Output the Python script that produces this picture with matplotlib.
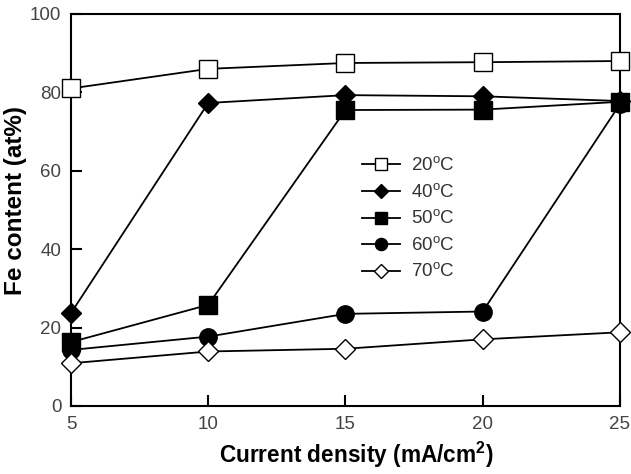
import matplotlib.pyplot as plt

# current density (mA/cm2)
current = [5, 10, 15, 20, 25]

# Fe content (at%) for each bath temperature
fe_20 = [81.0, 86.0, 87.5, 87.7, 88.0]
fe_40 = [23.7, 77.3, 79.3, 79.0, 77.8]
fe_50 = [16.3, 25.8, 75.5, 75.6, 77.6]
fe_60 = [14.3, 17.7, 23.5, 24.1, 77.0]
fe_70 = [10.9, 13.9, 14.6, 17.0, 18.8]

labels = ["20$^{\\mathrm{o}}$C", "40$^{\\mathrm{o}}$C", "50$^{\\mathrm{o}}$C",
          "60$^{\\mathrm{o}}$C", "70$^{\\mathrm{o}}$C"]

plt.rcParams['font.family'] = ['Liberation Sans', 'DejaVu Sans']
plt.rcParams['mathtext.fontset'] = 'custom'
plt.rcParams['mathtext.rm'] = 'Liberation Sans'
plt.rcParams['mathtext.bf'] = 'Liberation Sans:bold'

fig = plt.figure(figsize=(6.31, 4.74), dpi=100)
ax = fig.add_axes([0.1125, 0.1435, 0.870, 0.827])

lw = 1.3
ax.plot(current, fe_20, 's-', color='black', mfc='white', mec='black', ms=12.5, mew=1.0,
        lw=lw, label=labels[0], clip_on=False, zorder=3)
ax.plot(current, fe_40, 'D-', color='black', ms=10, lw=lw, label=labels[1],
        clip_on=False, zorder=3)
ax.plot(current, fe_50, 's-', color='black', ms=13, lw=lw, label=labels[2],
        clip_on=False, zorder=3)
ax.plot(current, fe_60, 'o-', color='black', ms=12.5, lw=lw, label=labels[3],
        clip_on=False, zorder=3)
ax.plot(current, fe_70, 'D-', color='black', mfc='white', mec='black', ms=10, mew=1.0,
        lw=lw, label=labels[4], clip_on=False, zorder=3)

ax.set_xlim(5, 25)
ax.set_ylim(0, 100)
ax.set_xticks([5, 10, 15, 20, 25])
ax.set_yticks([0, 20, 40, 60, 80, 100])
ax.tick_params(direction='in', length=8, width=1.5, labelsize=13.5, pad=7,
               labelcolor='#444444')
for s in ax.spines.values():
    s.set_linewidth(1.5)

ax.set_xlabel("Current density (mA/cm$^{\\mathbf{2}}$)", fontsize=16.3, fontweight='bold')
ax.xaxis.set_label_coords(0.519, -0.087)
ax.set_ylabel("Fe content (at%)", fontsize=17.5, fontweight='bold')
ax.yaxis.set_label_coords(-0.08, 0.523)

leg = ax.legend(loc='upper left', bbox_to_anchor=(0.5, 0.68), frameon=False,
                fontsize=13.5, handlelength=2.0, markerscale=0.7, labelspacing=0.42,
                handletextpad=0.6)
for t in leg.get_texts():
    t.set_color('#333333')

fig.savefig("out.png", dpi=100)
